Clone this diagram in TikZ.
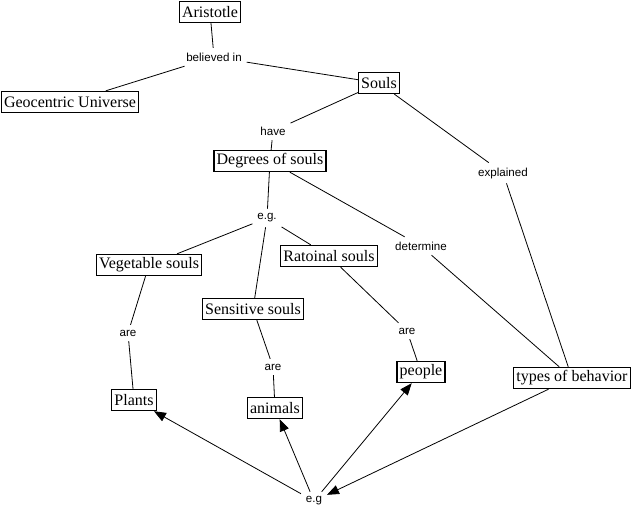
\documentclass[tikz,border=0pt]{standalone}
\usepackage{fontspec}
\setmainfont{Liberation Serif}
\newfontfamily\lblfont{Liberation Sans}
\usetikzlibrary{arrows.meta}
\begin{document}
\begin{tikzpicture}[x=0.75pt,y=-0.75pt,
  concept/.style={draw,line width=0.8pt,font=\fontsize{12}{14}\selectfont,inner xsep=2pt,inner ysep=2pt,minimum height=16pt},
  lbl/.style={font=\lblfont\fontsize{8.7}{10}\selectfont,inner sep=3.5pt},
  link/.style={line width=0.6pt},
  arr/.style={line width=0.6pt,-{Triangle[length=9pt,width=7pt]}}]
\useasboundingbox (0,0) rectangle (635,515);
\node[concept] (ari) at (210,12) {Aristotle};
\node[lbl] (bel) at (214,57) {believed in};
\node[concept] (geo) at (70,102) {Geocentric Universe};
\node[concept] (sou) at (379,83) {Souls};
\node[lbl] (hav) at (273,131) {have};
\node[concept] (deg) at (270,161) {Degrees of souls};
\node[lbl] (exp) at (503,173) {explained};
\node[lbl] (eg1) at (267,218) {e.g.};
\node[lbl] (det) at (421,246) {determine};
\node[concept] (veg) at (149,265) {Vegetable souls};
\node[concept] (rat) at (329,256) {Ratoinal souls};
\node[concept] (sen) at (253,309) {Sensitive souls};
\node[lbl] (are1) at (128,333) {are};
\node[lbl] (are2) at (273,367) {are};
\node[lbl] (are3) at (407,331) {are};
\node[concept] (pla) at (134,400) {Plants};
\node[concept] (ani) at (275,408) {animals};
\node[concept] (peo) at (421,372) {people};
\node[concept] (typ) at (572,378) {types of behavior};
\node[lbl] (eg2) at (314,501) {e.g};
\draw[link] (ari) -- (bel);
\draw[link] (bel) -- (geo);
\draw[link] (bel) -- (sou);
\draw[link] (sou) -- (hav);
\draw[link] (hav) -- (deg);
\draw[link] (sou) -- (exp);
\draw[link] (exp) -- (typ);
\draw[link] (deg) -- (eg1);
\draw[link] (deg) -- (det);
\draw[link] (det) -- (typ);
\draw[link] (eg1) -- (veg);
\draw[link] (eg1) -- (sen);
\draw[link] (eg1) -- (rat);
\draw[link] (veg) -- (are1);
\draw[link] (are1) -- (pla);
\draw[link] (sen) -- (are2);
\draw[link] (are2) -- (ani);
\draw[link] (rat) -- (are3);
\draw[link] (are3) -- (peo);
\draw[arr] (typ) -- (eg2);
\draw[arr] (eg2) -- (pla);
\draw[arr] (eg2) -- (ani);
\draw[arr] (eg2) -- (peo);
\end{tikzpicture}
\end{document}
